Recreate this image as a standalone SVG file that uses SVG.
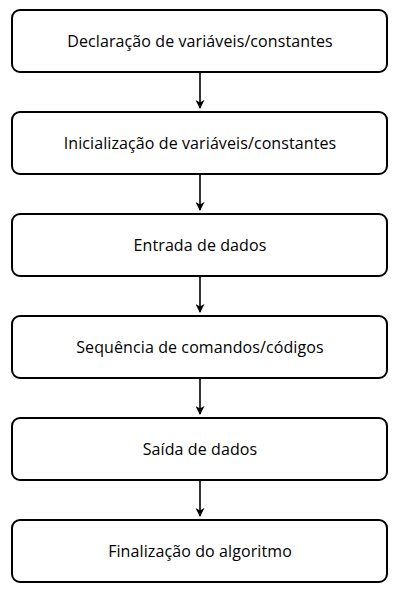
<svg xmlns="http://www.w3.org/2000/svg" width="405" height="592" viewBox="0 0 405 592">
<defs>
<style>
.box{fill:#fff;stroke:#000;stroke-width:2}
.lbl{font-family:"Open Sans","Noto Sans",sans-serif;font-size:16px;letter-spacing:0.1px;fill:#000;text-anchor:middle}
.con{stroke:#000;stroke-width:1.6;fill:none;marker-end:url(#ah)}
</style>
<marker id="ah" viewBox="0 0 10 10" refX="9" refY="5" markerWidth="9" markerHeight="9" orient="auto" markerUnits="userSpaceOnUse">
<path d="M0,0 L10,5 L0,10 L3,5 Z" fill="#000"/>
</marker>
</defs>
<rect width="405" height="592" fill="#fff"/>
<g id="connectors">
<line class="con" x1="200" y1="72" x2="200" y2="108"/>
<line class="con" x1="200" y1="174" x2="200" y2="210"/>
<line class="con" x1="200" y1="276" x2="200" y2="312"/>
<line class="con" x1="200" y1="378" x2="200" y2="414"/>
<line class="con" x1="200" y1="480" x2="200" y2="516"/>
</g>
<g id="n1"><rect class="box" x="12" y="10" width="375" height="62" rx="8"/><text class="lbl" x="200" y="47">Declaração de variáveis/constantes</text></g>
<g id="n2"><rect class="box" x="12" y="112" width="375" height="62" rx="8"/><text class="lbl" x="200" y="149">Inicialização de variáveis/constantes</text></g>
<g id="n3"><rect class="box" x="12" y="214" width="375" height="62" rx="8"/><text class="lbl" x="200" y="251">Entrada de dados</text></g>
<g id="n4"><rect class="box" x="12" y="316" width="375" height="62" rx="8"/><text class="lbl" x="200" y="353">Sequência de comandos/códigos</text></g>
<g id="n5"><rect class="box" x="12" y="418" width="375" height="62" rx="8"/><text class="lbl" x="200" y="455">Saída de dados</text></g>
<g id="n6"><rect class="box" x="12" y="520" width="375" height="62" rx="8"/><text class="lbl" x="200" y="557">Finalização do algoritmo</text></g>
</svg>
